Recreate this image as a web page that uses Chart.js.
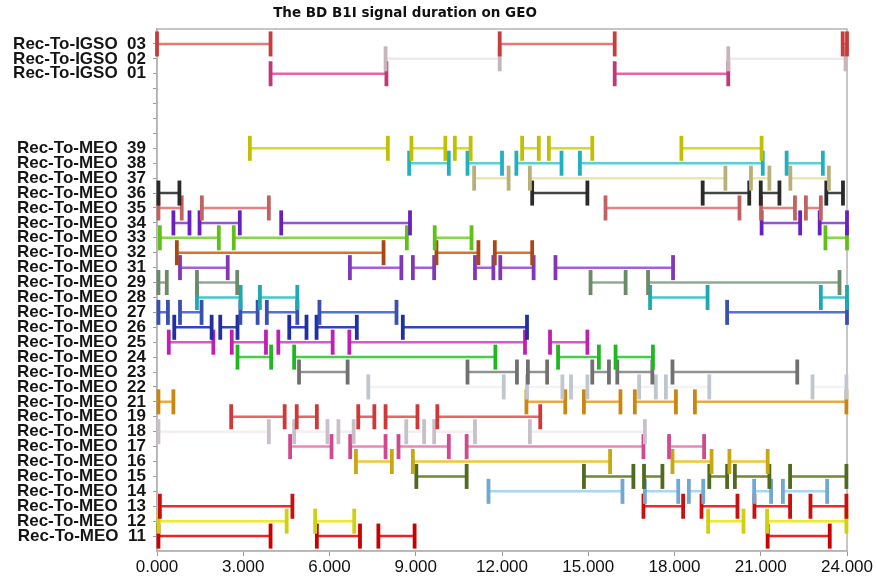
<!DOCTYPE html>
<html>
<head>
<meta charset="utf-8">
<title>The BD B1I signal duration on GEO</title>
<script src="https://cdn.jsdelivr.net/npm/chart.js@4.4.1/dist/chart.umd.min.js"></script>
<style>
  html, body { margin: 0; padding: 0; background: #fff; }
  #wrap { width: 877px; height: 582px; }
</style>
</head>
<body>
<div id="wrap"><canvas id="durChart" width="877" height="582"></canvas></div>
<script>
// Y axis rows (the blank rows keep IGSO apart from MEO)
const rowLabels = [
    'Rec-To-IGSO  03', 'Rec-To-IGSO  02', 'Rec-To-IGSO  01', '', '', '', '',
    'Rec-To-MEO  39', 'Rec-To-MEO  38', 'Rec-To-MEO  37', 'Rec-To-MEO  36', 'Rec-To-MEO  35',
    'Rec-To-MEO  34', 'Rec-To-MEO  33', 'Rec-To-MEO  32', 'Rec-To-MEO  31', 'Rec-To-MEO  29',
    'Rec-To-MEO  28', 'Rec-To-MEO  27', 'Rec-To-MEO  26', 'Rec-To-MEO  25', 'Rec-To-MEO  24',
    'Rec-To-MEO  23', 'Rec-To-MEO  22', 'Rec-To-MEO  21', 'Rec-To-MEO  19', 'Rec-To-MEO  18',
    'Rec-To-MEO  17', 'Rec-To-MEO  16', 'Rec-To-MEO  15', 'Rec-To-MEO  14', 'Rec-To-MEO  13',
    'Rec-To-MEO  12', 'Rec-To-MEO  11'
];
const xTickValues = [0, 3, 6, 9, 12, 15, 18, 21, 24]; // hours

// Visible windows [start, end] in hours for each link
const igso03 = [[0.0, 3.95], [11.92, 15.92], [23.85, 24.0]];
const igso02 = [[7.95, 11.92], [19.87, 23.95]];
const igso01 = [[3.95, 7.98], [15.92, 19.87]];
const meo39 = [[3.23, 8.03], [8.85, 10.03], [10.36, 10.91], [12.70, 13.28], [13.63, 15.14], [18.24, 21.03]];
const meo38 = [[8.77, 10.15], [10.8, 12.0], [12.5, 14.07], [14.71, 21.07], [21.9, 23.16]];
const meo37 = [[11.03, 12.23], [12.97, 19.77], [20.66, 21.3], [22.03, 23.37]];
const meo36 = [[0.05, 0.78], [13.05, 14.97], [18.98, 20.6], [21.0, 21.65], [23.28, 23.86]];
const meo35 = [[0.05, 0.86], [1.56, 3.89], [15.6, 20.26], [21.01, 22.19], [22.57, 23.09]];
const meo34 = [[0.57, 1.13], [1.48, 2.88], [4.32, 8.8], [21.03, 22.37], [23.05, 24.0]];
const meo33 = [[0.1, 2.15], [2.67, 8.69], [9.66, 10.94], [23.25, 24.0]];
const meo32 = [[0.69, 7.88], [9.72, 11.18], [11.75, 13.05]];
const meo31 = [[0.8, 2.46], [6.71, 8.5], [8.9, 9.64], [11.06, 11.7], [11.94, 13.1], [13.86, 17.95]];
const meo29 = [[0.05, 0.34], [1.39, 2.79], [15.08, 16.3], [17.08, 23.74]];
const meo28 = [[1.39, 2.91], [3.58, 4.88], [17.15, 19.15], [23.09, 24.0]];
const meo27 = [[0.05, 0.38], [0.8, 1.55], [2.9, 3.5], [3.82, 4.88], [5.65, 8.33], [19.83, 24.0]];
const meo26 = [[0.6, 1.9], [2.2, 2.8], [4.6, 5.2], [5.55, 6.95], [8.55, 12.87]];
const meo25 = [[0.41, 1.96], [2.6, 3.79], [4.22, 6.11], [6.69, 12.8], [13.67, 14.97]];
const meo24 = [[2.8, 3.97], [4.77, 11.77], [13.95, 15.37], [15.95, 17.25]];
const meo23 = [[4.94, 6.63], [10.8, 12.52], [12.9, 13.57], [15.14, 15.72], [16.01, 17.23], [17.93, 22.27]];
const meo22 = [[7.35, 12.06], [12.87, 14.1], [14.4, 14.97], [16.77, 17.35], [17.7, 19.21], [22.8, 23.98]];
const meo21 = [[0.05, 0.57], [12.85, 14.2], [14.85, 16.12], [16.62, 18.05], [18.71, 23.98]];
const meo19 = [[2.58, 4.44], [4.86, 5.56], [7.0, 7.56], [7.95, 9.06], [9.75, 13.33]];
const meo18 = [[0.05, 3.89], [4.77, 5.93], [6.31, 6.84], [8.67, 9.29], [9.64, 11.06], [12.97, 16.97]];
const meo17 = [[4.63, 6.07], [6.72, 7.95], [8.4, 10.15], [10.77, 16.92], [17.81, 19.03]];
const meo16 = [[6.92, 8.17], [8.9, 15.76], [17.93, 19.29], [19.91, 21.24]];
const meo15 = [[9.02, 10.77], [14.85, 16.57], [16.94, 17.58], [19.21, 19.83], [20.1, 21.3], [22.02, 23.98]];
const meo14 = [[11.53, 16.19], [16.97, 18.13], [18.5, 19.0], [20.77, 21.36], [21.77, 23.31]];
const meo13 = [[0.1, 4.71], [16.92, 18.3], [18.94, 20.19], [20.78, 22.02], [22.73, 23.98]];
const meo12 = [[0.05, 4.51], [5.5, 6.86], [19.17, 20.4], [21.22, 23.98]];
const meo11 = [[0.05, 3.95], [5.56, 7.06], [7.7, 8.96], [21.24, 23.4]];

// Same order as rowLabels (null = blank row)
const rowSpans = [
    igso03, igso02, igso01, null, null, null, null,
    meo39, meo38, meo37, meo36, meo35, meo34, meo33, meo32, meo31, meo29,
    meo28, meo27, meo26, meo25, meo24, meo23, meo22, meo21, meo19, meo18,
    meo17, meo16, meo15, meo14, meo13, meo12, meo11
];

// Line colour / end-mark colour per row
const lineColors = [
    '#e87878', '#efe9eb', '#e066a4', null, null, null, null,
    '#d8d828', '#58d0d4', '#ece6aa', '#444444', '#e08484', '#9254d2', '#84d848', '#d87234', '#a262d2', '#92aa92',
    '#44c8cc', '#5472d2', '#3444b4', '#e054d2', '#44d044', '#929292', '#f3f3f3', '#e8aa44', '#ea6464', '#f4eef2',
    '#f284ba', '#f0c834', '#6a8a3a', '#aad6f2', '#e82c2c', '#f0e834', '#e82424'
];
const capColors = [
    '#c83c3c', '#c6b6bc', '#c03878', null, null, null, null,
    '#c0c000', '#20b0c0', '#b8b078', '#2a2a2a', '#c06262', '#6a20c0', '#60c018', '#a84818', '#8038b8', '#6a8a6a',
    '#20a8b0', '#3a50b0', '#2030a0', '#c020b0', '#20b820', '#707070', '#c0c6ce', '#c88810', '#d03838', '#c8c0c8',
    '#d04890', '#c8a810', '#506a20', '#70a8d0', '#c81010', '#d0d010', '#c80000'
];

const datasets = [];
rowSpans.forEach((spans, row) => {
    if (!spans) return;
    const pts = [];
    spans.forEach(([s, e]) => {
        pts.push({ x: s, y: row }, { x: e, y: row }, { x: e, y: null }); // null breaks the line
    });
    datasets.push({
        label: rowLabels[row],
        data: pts,
        showLine: true,
        spanGaps: false,
        borderColor: lineColors[row],
        borderWidth: 2.5,
        borderCapStyle: 'butt',
        pointStyle: 'line',
        pointRotation: 90,
        pointRadius: 12.5,
        pointHoverRadius: 12.5,
        pointBorderColor: capColors[row],
        pointBorderWidth: 3.8,
        pointBackgroundColor: capColors[row],
        clip: 6
    });
});

// Box round the plot area
const frameBox = {
    id: 'frameBox',
    beforeDatasetsDraw(chart) {
        const { ctx, chartArea: a } = chart;
        ctx.save();
        ctx.strokeStyle = '#b4b4b4';
        ctx.lineWidth = 1.5;
        ctx.strokeRect(a.left, a.top, a.right - a.left, a.bottom - a.top);
        ctx.restore();
    }
};

// Title sits left of the plot centre
const topTitle = {
    id: 'topTitle',
    afterDraw(chart) {
        const ctx = chart.ctx;
        ctx.save();
        ctx.font = 'bold 13.5px "DejaVu Sans"';
        ctx.fillStyle = '#111';
        ctx.textAlign = 'center';
        ctx.textBaseline = 'middle';
        ctx.fillText('The BD B1I signal duration on GEO', 405, 13);
        ctx.restore();
    }
};

const ctx = document.getElementById('durChart').getContext('2d');
const chart = new Chart(ctx, {
    type: 'scatter',
    data: { datasets: datasets },
    options: {
        responsive: false,
        animation: false,
        events: [],
        layout: { padding: { top: 29, right: 30, left: 0, bottom: 0 } },
        plugins: {
            legend: { display: false },
            tooltip: { enabled: false },
            title: { display: false }
        },
        scales: {
            x: {
                type: 'linear',
                min: 0,
                max: 24,
                afterBuildTicks: s => { s.ticks = xTickValues.map(v => ({ value: v })); },
                ticks: {
                    autoSkip: false,
                    maxRotation: 0,
                    padding: 1,
                    color: '#111',
                    font: { family: '"Liberation Sans", Arial', size: 17 },
                    callback: v => Number(v).toFixed(3)
                },
                grid: { drawOnChartArea: false, tickLength: 5, color: '#9a9a9a' },
                border: { color: '#b4b4b4', width: 1.5 },
                afterFit: s => { s.height = 31; }
            },
            y: {
                type: 'linear',
                reverse: true,
                min: -1,
                max: 34,
                afterBuildTicks: s => { s.ticks = rowLabels.map((_, i) => ({ value: i })); },
                ticks: {
                    autoSkip: false,
                    padding: 7,
                    color: '#151515',
                    font: { family: '"Liberation Sans", Arial', size: 17, weight: 'bold', lineHeight: 1 },
                    callback: v => rowLabels[v] || ''
                },
                grid: { drawOnChartArea: false, tickLength: 4, color: '#9a9a9a' },
                border: { color: '#b4b4b4', width: 1.5 },
                afterFit: s => { s.width = 157; }
            }
        }
    },
    plugins: [frameBox, topTitle]
});
</script>
</body>
</html>
